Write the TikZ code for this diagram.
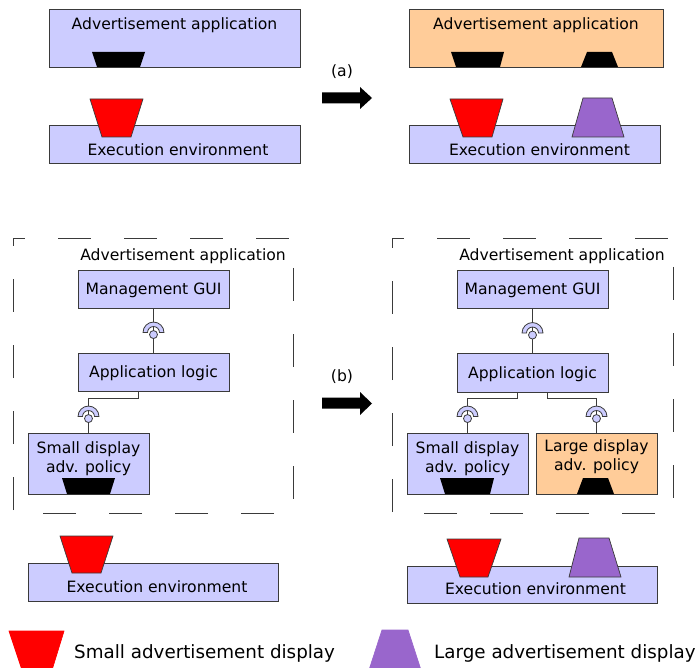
\documentclass[tikz,border=0pt]{standalone}
\usepackage{fontspec}
\setmainfont{DejaVu Sans}
\definecolor{lav}{HTML}{CCCCFF}
\definecolor{orng}{HTML}{FFCC99}
\definecolor{purp}{HTML}{9966CC}
\definecolor{edge}{HTML}{3A3A3A}
\tikzset{
  box/.style={draw=edge, fill=lav, line width=0.9pt, inner sep=0pt,
    font=\fontsize{15.6pt}{19pt}\selectfont, text height=11.4pt, text depth=0pt},
  txt/.style={inner sep=0pt, anchor=base, font=\fontsize{15.6pt}{19pt}\selectfont},
  legtxt/.style={inner sep=0pt, anchor=base west, font=\fontsize{18.3pt}{22pt}\selectfont},
  conn/.style={draw=edge, line width=0.9pt},
  dashbox/.style={draw=edge, line width=1pt, dash pattern=on 33pt off 33pt, dash phase=21pt},
  redtrap/.style={fill=red, draw=edge, line width=0.7pt},
  purptrap/.style={fill=purp, draw=edge, line width=0.7pt},
  blacktrap/.style={fill=black},
  bigarrow/.style={fill=black},
  sockpic/.pic={
    \filldraw[fill=lav, draw=edge, line width=0.8pt]
      (-10.5,0) arc[start angle=180, end angle=360, radius=10.5]
      -- (6,0) arc[start angle=360, end angle=180, radius=6] -- cycle;
    \filldraw[fill=lav, draw=edge, line width=0.8pt] (0,2) circle[radius=4];
  }
}
\begin{document}
\begin{tikzpicture}[x=1pt, y=-1pt]
\useasboundingbox (0,0) rectangle (696,668);

% ---------------- (a) left ----------------
\node[box, minimum width=251pt, minimum height=58pt] (appL) at (174.5,38) {};
\node[txt] (appLt) at (174.5,30) {Advertisement application};
\fill[blacktrap] (92,52) -- (145,52) -- (140,67) -- (97,67) -- cycle;
\node[box, minimum width=251pt, minimum height=38pt] (exeL) at (174.5,144) {};
\node[txt] (exeLt) at (178,156) {Execution environment};
\filldraw[redtrap] (90,99) -- (143,99) -- (131,137) -- (102,137) -- cycle;

% arrow (a)
\node[txt] (la) at (342,76.5) {(a)};
\fill[bigarrow] (322,92.5) -- (360,92.5) -- (360,87) -- (372,98) -- (360,109) -- (360,103.5) -- (322,103.5) -- cycle;

% ---------------- (a) right ----------------
\node[box, fill=orng, minimum width=254pt, minimum height=58pt] (appR) at (536,38) {};
\node[txt] (appRt) at (536,30) {Advertisement application};
\fill[blacktrap] (451,52) -- (504,52) -- (500,67) -- (456,67) -- cycle;
\fill[blacktrap] (587,52) -- (612,52) -- (618,67) -- (581,67) -- cycle;
\node[box, minimum width=251pt, minimum height=38pt] (exeR) at (534.5,144) {};
\node[txt] (exeRt) at (539.5,156) {Execution environment};
\filldraw[redtrap] (450,99) -- (503,99) -- (492,137) -- (463,137) -- cycle;
\filldraw[purptrap] (583,98) -- (612,98) -- (624,137) -- (572,137) -- cycle;

% ---------------- (b) left ----------------
\draw[dashbox] (13,239) -- (293,239) -- (293,513) -- (13,513) -- cycle;
\node[txt, anchor=base east] (appBLt) at (286,261) {Advertisement application};
\node[box, minimum width=151pt, minimum height=38pt] (mgL) at (153.5,289) {Management GUI};
\node[box, minimum width=151pt, minimum height=38pt] (alL) at (153.5,372) {Application logic};
\node[box, minimum width=121pt, minimum height=61pt] (sdL) at (88.5,463.5) {};
\node[txt] (sdL1) at (88.5,453) {Small display};
\node[txt] (sdL2) at (88.5,472) {adv. policy};
\fill[blacktrap] (62,478) -- (115,478) -- (110,494) -- (67,494) -- cycle;
\draw[conn] (mgL.south) -- (alL.north);
\pic at ([yshift=20pt]alL.north) {sockpic};
\draw[conn] ([xshift=-15.5pt]alL.south) -- ++(0,7) -| (sdL.north);
\pic at ([yshift=16pt]sdL.north) {sockpic};

\node[box, minimum width=250pt, minimum height=38pt] (exeBL) at (153,582) {};
\node[txt] (exeBLt) at (157,592) {Execution environment};
\filldraw[redtrap] (60,536) -- (113,536) -- (101,573) -- (72,573) -- cycle;

% arrow (b)
\node[txt] (lb) at (342,381.5) {(b)};
\fill[bigarrow] (322,397.5) -- (360,397.5) -- (360,392) -- (372,403.5) -- (360,415) -- (360,408.5) -- (322,408.5) -- cycle;

% ---------------- (b) right ----------------
\draw[dashbox] (392,239) -- (673,239) -- (673,513) -- (392,513) -- cycle;
\node[txt, anchor=base east] (appBRt) at (665,261) {Advertisement application};
\node[box, minimum width=151pt, minimum height=38pt] (mgR) at (532.5,289) {Management GUI};
\node[box, minimum width=151pt, minimum height=39pt] (alR) at (532.5,372.5) {Application logic};
\node[box, minimum width=121pt, minimum height=61pt] (sdR) at (467.5,463.5) {};
\node[txt] (sdR1) at (467.5,453) {Small display};
\node[txt] (sdR2) at (467.5,472) {adv. policy};
\node[box, fill=orng, minimum width=121pt, minimum height=61pt] (ldR) at (596.5,463.5) {};
\node[txt] (ldR1) at (596.5,451) {Large display};
\node[txt] (ldR2) at (596.5,470) {adv. policy};
\fill[blacktrap] (440,478) -- (494,478) -- (490,494) -- (445,494) -- cycle;
\fill[blacktrap] (583,478) -- (608,478) -- (614,494) -- (577,494) -- cycle;
\draw[conn] (mgR.south) -- (alR.north);
\pic at ([yshift=19.5pt]alR.north) {sockpic};
\draw[conn] ([xshift=-15pt]alR.south) -- ++(0,6) -| (sdR.north);
\draw[conn] ([xshift=15pt]alR.south) -- ++(0,6) -| (ldR.north);
\pic at ([yshift=16pt]sdR.north) {sockpic};
\pic at ([yshift=16pt]ldR.north) {sockpic};

\node[box, minimum width=250pt, minimum height=37pt] (exeBR) at (532,584.5) {};
\node[txt] (exeBRt) at (535.5,594) {Execution environment};
\filldraw[redtrap] (447,539) -- (501,539) -- (488,577) -- (460,577) -- cycle;
\filldraw[purptrap] (579,538) -- (609,538) -- (621,577) -- (569,577) -- cycle;

% ---------------- legend ----------------
\filldraw[redtrap, draw=red] (9,631) -- (64,631) -- (52,670) -- (22,670) -- cycle;
\node[legtxt] (legS) at (74,658) {Small advertisement display};
\filldraw[purptrap, draw=purp] (382,630) -- (408,630) -- (421,670) -- (369,670) -- cycle;
\node[legtxt] (legL) at (434,658) {Large advertisement display};
\end{tikzpicture}
\end{document}
